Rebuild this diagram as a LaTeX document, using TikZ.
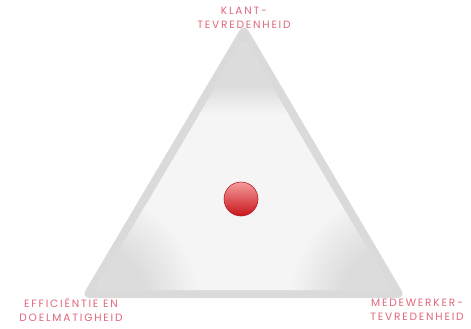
\documentclass[tikz,border=0pt]{standalone}
\usepackage{fontspec}
\newfontfamily\labelfont[LetterSpace=17]{Poppins}
\definecolor{rimgray}{HTML}{DADADA}
\definecolor{hazegray}{HTML}{DCDCDC}
\definecolor{bgw}{HTML}{F5F5F5}
\definecolor{labelpink}{HTML}{E0677A}
\definecolor{balltop}{HTML}{F59C9C}
\definecolor{ballbot}{HTML}{C8141A}
\definecolor{ballrim}{HTML}{B4202A}
\pgfdeclareradialshading{cornerhaze}{\pgfpoint{0bp}{0bp}}{color(0bp)=(hazegray); color(13bp)=(hazegray); color(25bp)=(bgw); color(50bp)=(bgw)}
\tikzset{
  cornerlabel/.style={text=labelpink, align=center, font=\labelfont\fontsize{10.6}{13.8}\selectfont, inner sep=0pt},
}
\begin{document}
\begin{tikzpicture}[x=1pt,y=-1pt]
\useasboundingbox (0,0) rectangle (471,329);
\fill[white] (0,0) rectangle (471,329);
% outer triangle
\coordinate (A) at (244,23);
\coordinate (B) at (81,298);
\coordinate (C) at (406,298);
\fill[rimgray, rounded corners=9] (A) -- (B) -- (C) -- cycle;
% inner region
\coordinate (Ai) at (244,39);
\coordinate (Bi) at (95.5,290);
\coordinate (Ci) at (391.5,290);
\begin{scope}
  \clip[rounded corners=5] (Ai) -- (Bi) -- (Ci) -- cycle;
  \fill[bgw] (0,0) rectangle (471,329);
  \fill[hazegray] (0,0) rectangle (471,86);
  \shade[top color=hazegray, bottom color=bgw] (0,85.5) rectangle (471,114);
  \shade[shading=cornerhaze] (88,300) circle (110);
  \shade[shading=cornerhaze] (399,300) circle (110);
\end{scope}
% ball
\node[circle, minimum size=34pt, inner sep=0pt, top color=balltop, bottom color=ballbot, draw=ballrim, line width=0.6pt] (ball) at (241,199) {};
% labels
\node[cornerlabel, anchor=base] (klant) at (244,28.5) {KLANT-\\TEVREDENHEID};
\node[cornerlabel, anchor=base] (eff) at (71,321) {EFFICIËNTIE EN\\DOELMATIGHEID};
\node[cornerlabel, anchor=base] (mede) at (417,320.5) {MEDEWERKER-\\TEVREDENHEID};
\end{tikzpicture}
\end{document}
